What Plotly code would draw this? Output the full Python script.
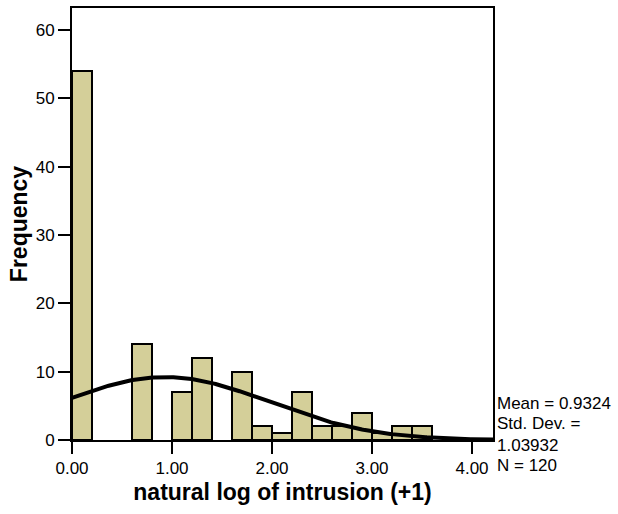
import numpy as np
import plotly.graph_objects as go

# Histogram bins (width 0.2) and frequencies
bin_width = 0.2
bin_starts = [0.0, 0.2, 0.4, 0.6, 0.8, 1.0, 1.2, 1.4, 1.6, 1.8, 2.0, 2.2, 2.4, 2.6, 2.8, 3.0, 3.2, 3.4]
counts = [54, 0, 0, 14, 0, 7, 12, 0, 10, 2, 1, 7, 2, 2, 4, 1, 2, 2]

# Summary statistics
mean_val = 0.9324
sd_val = 1.03932
n_val = 120

x_tickvals = [0, 1, 2, 3, 4]
x_ticktext = ["0.00", "1.00", "2.00", "3.00", "4.00"]
y_tickvals = [0, 10, 20, 30, 40, 50, 60]
stat_lines = [f"Mean = {mean_val}", "Std. Dev. =", f"{sd_val}", f"N = {n_val}"]

bx = [s + bin_width / 2 for s, c in zip(bin_starts, counts) if c > 0]
by = [c for c in counts if c > 0]

cx = np.linspace(0, 4.21, 300)
cy = n_val * bin_width * np.exp(-0.5 * ((cx - mean_val) / sd_val) ** 2) / (sd_val * np.sqrt(2 * np.pi))

FONT = "Liberation Sans, Arial, sans-serif"

fig = go.Figure()
fig.add_trace(go.Bar(x=bx, y=by, width=bin_width,
                     marker=dict(color="#D4CF99", line=dict(color="black", width=2)),
                     hoverinfo="skip"))
fig.add_trace(go.Scatter(x=cx, y=cy, mode="lines",
                         line=dict(color="black", width=4), hoverinfo="skip"))

shifts = [37, 17, -5, -25]
annotations = [dict(text=t, xref="paper", yref="paper", x=1.0, y=0.0, xshift=2, yshift=s,
                    xanchor="left", yanchor="middle", align="left", showarrow=False,
                    font=dict(size=17, family=FONT, color="black"))
               for t, s in zip(stat_lines, shifts)]

fig.update_layout(
    width=618, height=514,
    margin=dict(l=72, r=125, t=6, b=74),
    plot_bgcolor="white", paper_bgcolor="white",
    showlegend=False,
    bargap=0,
    font=dict(family=FONT, color="black"),
    xaxis=dict(range=[0, 4.21], tickvals=x_tickvals, ticktext=x_ticktext,
               ticks="outside", ticklen=12, tickwidth=2, tickcolor="black",
               showline=True, linewidth=2, linecolor="black", mirror=True,
               showgrid=False, zeroline=False,
               tickfont=dict(size=17, family=FONT),
               title=dict(text="<b>natural log of intrusion (+1)</b>",
                          font=dict(size=23, family=FONT), standoff=6)),
    yaxis=dict(range=[0, 63.2], tickvals=y_tickvals,
               ticks="outside", ticklen=12, tickwidth=2, tickcolor="black",
               showline=True, linewidth=2, linecolor="black", mirror=True,
               showgrid=False, zeroline=False,
               tickfont=dict(size=17, family=FONT),
               title=dict(text="<b>Frequency</b>",
                          font=dict(size=23, family=FONT), standoff=2)),
    annotations=annotations,
)

fig.write_html("out.html")
